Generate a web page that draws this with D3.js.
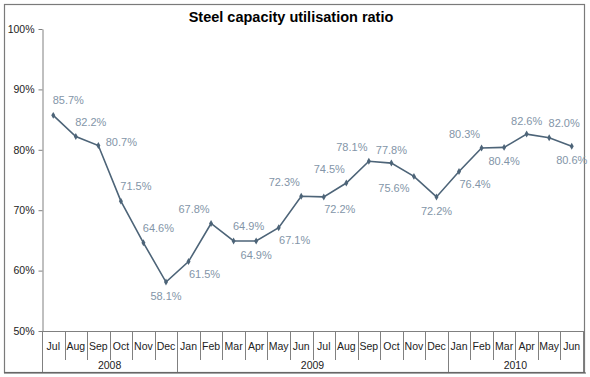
<!DOCTYPE html>
<html>
<head>
<meta charset="utf-8">
<style>
    body { margin: 0; background: #fff; }
    svg { display: block; font-family: 'Liberation Sans', Arial, sans-serif; }
    .title { font-size: 14.5px; font-weight: bold; fill: #000; }
    .y .tick text { font-size: 10.5px; fill: #222; }
    .y .tick line { stroke: #808080; }
    .y .domain { stroke: #808080; }
    .month { font-size: 10.5px; fill: #222; }
    .year { font-size: 10.5px; fill: #222; }
    .val { font-size: 11px; fill: #8395a8; }
</style>
</head>
<body>
<svg width="590" height="377"></svg>
<script src="https://d3js.org/d3.v7.min.js"></script>
<script>
    // data
    const months = ["Jul", "Aug", "Sep", "Oct", "Nov", "Dec",
        "Jan", "Feb", "Mar", "Apr", "May", "Jun", "Jul", "Aug", "Sep", "Oct", "Nov", "Dec",
        "Jan", "Feb", "Mar", "Apr", "May", "Jun"]
    const years = ["2008", "2008", "2008", "2008", "2008", "2008",
        "2009", "2009", "2009", "2009", "2009", "2009", "2009", "2009", "2009", "2009", "2009", "2009",
        "2010", "2010", "2010", "2010", "2010", "2010"]
    const ratio = [85.7, 82.2, 80.7, 71.5, 64.6, 58.1,
        61.5, 67.8, 64.9, 64.9, 67.1, 72.3, 72.2, 74.5, 78.1, 77.8, 75.6, 72.2,
        76.4, 80.3, 80.4, 82.6, 82.0, 80.6]
    // which side of the point each value label sits on
    const labelSide = ["ne", "ne", "e", "ne", "ne", "s",
        "se", "nw", "ne", "s", "se", "nw", "se", "nw", "nw", "n", "sw", "s",
        "se", "nw", "s", "n", "ne", "s"]
    const yTicks = [0.5, 0.6, 0.7, 0.8, 0.9, 1.0]

    const svg = d3.select("svg")
    const margin = { top: 29, left: 42, right: 583, bottom: 331 }

    // outer frame
    svg.append("rect")
        .attr("x", 4.5).attr("y", 4.5)
        .attr("width", 580).attr("height", 368)
        .attr("fill", "none")
        .attr("stroke", "#7a7a7a")
        .attr("stroke-width", 1.2)
    svg.append("line")
        .attr("x1", 4).attr("x2", 586)
        .attr("y1", 373).attr("y2", 373)
        .attr("stroke", "#555").attr("stroke-width", 1)

    svg.append("text")
        .attr("class", "title")
        .attr("x", 291).attr("y", 22)
        .attr("text-anchor", "middle")
        .text("Steel capacity utilisation ratio")

    const x = d3.scaleBand()
        .domain(d3.range(months.length))
        .range([margin.left, margin.right])

    const y = d3.scaleLinear()
        .domain([0.5, 1])
        .range([margin.bottom, margin.top])

    // y axis
    svg.append("g")
        .attr("class", "y axis")
        .attr("transform", `translate(${margin.left + 0.5},0)`)
        .call(d3.axisLeft(y)
            .tickValues(yTicks)
            .tickFormat(d3.format(".0%"))
            .tickSize(4)
            .tickSizeOuter(0)
            .tickPadding(4))
        .call(g => g.selectAll(".tick line").attr("stroke", "#808080"))

    // category axis
    const cat = svg.append("g")
    cat.append("line")
        .attr("x1", margin.left).attr("x2", margin.right)
        .attr("y1", margin.bottom + 0.5).attr("y2", margin.bottom + 0.5)
        .attr("stroke", "#808080")

    // separators between months (long ones at year boundaries)
    const bounds = d3.range(months.length + 1)
    cat.selectAll("line.sep")
        .data(bounds)
        .join("line")
        .attr("class", "sep")
        .attr("x1", i => Math.round(margin.left + i * x.step()) + 0.5)
        .attr("x2", i => Math.round(margin.left + i * x.step()) + 0.5)
        .attr("y1", margin.bottom)
        .attr("y2", i => (i == 0 || i == months.length || years[i] != years[i - 1]) ? 372 : 360)
        .attr("stroke", "#808080")

    cat.selectAll("text.month")
        .data(months)
        .join("text")
        .attr("class", "month")
        .attr("x", (d, i) => x(i) + x.bandwidth() / 2)
        .attr("y", 350)
        .attr("text-anchor", "middle")
        .text(d => d)

    const groups = d3.groups(years.map((yr, i) => ({ yr, i })), d => d.yr)
    cat.selectAll("text.year")
        .data(groups)
        .join("text")
        .attr("class", "year")
        .attr("x", g => (x(g[1][0].i) + x(g[1][g[1].length - 1].i) + x.bandwidth()) / 2)
        .attr("y", 369)
        .attr("text-anchor", "middle")
        .text(g => g[0])

    // line
    const line = d3.line()
        .x((d, i) => x(i) + x.bandwidth() / 2)
        .y(d => y(d / 100))

    svg.append("path")
        .datum(ratio)
        .attr("fill", "none")
        .attr("stroke", "#4d6478")
        .attr("stroke-width", 1.6)
        .attr("d", line)

    svg.selectAll("path.mark")
        .data(ratio)
        .join("path")
        .attr("class", "mark")
        .attr("d", d3.symbol(d3.symbolDiamond, 14))
        .attr("transform", (d, i) => `translate(${x(i) + x.bandwidth() / 2},${y(d / 100)})`)
        .attr("fill", "#4d6478")

    // value labels
    const offsets = {
        n: [0, -13], s: [0, 14], e: [23, -4],
        ne: [15, -15], nw: [-17, -14], se: [16, 12], sw: [-20, 12]
    }
    svg.selectAll("text.val")
        .data(ratio)
        .join("text")
        .attr("class", "val")
        .attr("x", (d, i) => x(i) + x.bandwidth() / 2 + offsets[labelSide[i]][0])
        .attr("y", (d, i) => y(d / 100) + offsets[labelSide[i]][1] + 4)
        .attr("text-anchor", "middle")
        .text(d => d.toFixed(1) + "%")
</script>
</body>
</html>
